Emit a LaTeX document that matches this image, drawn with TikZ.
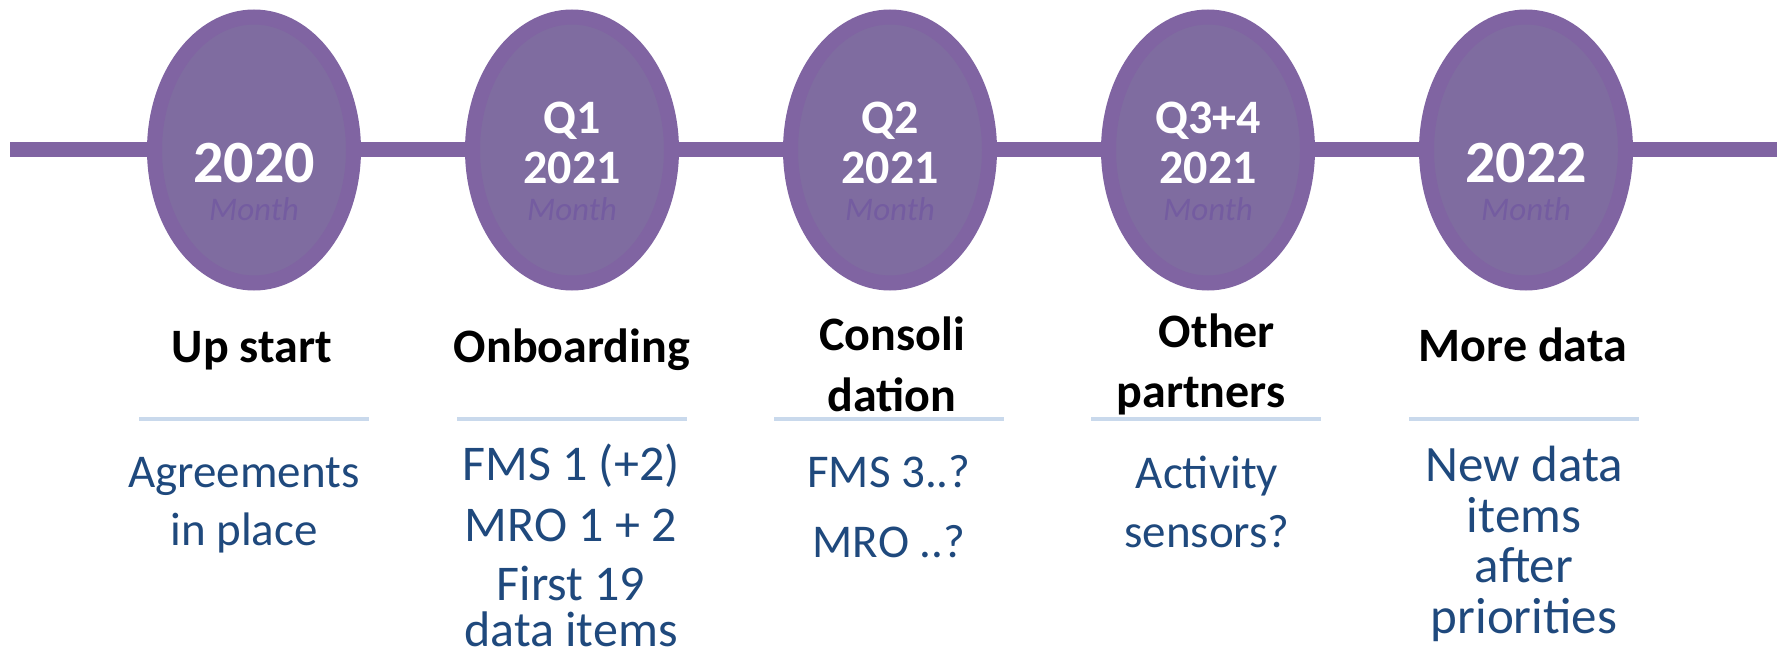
\documentclass[tikz,border=0pt]{standalone}
\usepackage{fontspec}
\setmainfont{Carlito}
\usetikzlibrary{shapes.geometric}
\definecolor{pedge}{RGB}{128,100,162}
\definecolor{pfill}{RGB}{127,108,160}
\definecolor{pmonth}{RGB}{116,92,160}
\definecolor{bodyblue}{RGB}{31,73,125}
\definecolor{seplight}{RGB}{201,217,236}
\tikzset{
  ell/.style={ellipse, draw=pedge, fill=pfill, line width=15pt, minimum width=199pt, minimum height=266pt, inner sep=0pt},
  tl/.style={draw=pedge, line width=15pt, line cap=butt},
  sepline/.style={draw=seplight, line width=4pt},
  txt/.style={inner sep=0pt, anchor=base},
  bigyear/.style={txt, text=white, font=\fontsize{60}{60}\selectfont\bfseries},
  qyear/.style={txt, text=white, font=\fontsize{48}{50}\selectfont\bfseries},
  monthtxt/.style={txt, text=pmonth, font=\fontsize{33}{34}\selectfont\itshape},
  title/.style={txt, text=black, font=\fontsize{48}{50}\selectfont\bfseries},
  bodya/.style={txt, text=bodyblue, font=\fontsize{47}{50}\selectfont},
  bodyb/.style={txt, text=bodyblue, font=\fontsize{50}{50}\selectfont},
  bodyc/.style={txt, text=bodyblue, font=\fontsize{51}{50}\selectfont},
}
\begin{document}
\begin{tikzpicture}[x=1pt,y=-1pt]
\useasboundingbox (0,0) rectangle (1783,655);
% ellipses
\node[ell] (e1) at (254,150) {};
\node[ell] (e2) at (572,150) {};
\node[ell] (e3) at (890,150) {};
\node[ell] (e4) at (1208,150) {};
\node[ell] (e5) at (1526,150) {};
% timeline
\coordinate (L) at (10,150);
\coordinate (R) at (1777,150);
\draw[tl] (L) -- (e1.west);
\draw[tl] (e1.east) -- (e2.west);
\draw[tl] (e2.east) -- (e3.west);
\draw[tl] (e3.east) -- (e4.west);
\draw[tl] (e4.east) -- (e5.west);
\draw[tl] (e5.east) -- (R);
% labels in ellipses
\node[bigyear] (y1) at (254,183) {2020};
\node[qyear] (q2a) at (572,134) {Q1};
\node[qyear] (q2b) at (572,184) {2021};
\node[qyear] (q3a) at (890,134) {Q2};
\node[qyear] (q3b) at (890,184) {2021};
\node[qyear] (q4a) at (1208,134) {Q3+4};
\node[qyear] (q4b) at (1208,184) {2021};
\node[bigyear] (y5) at (1526,183) {2022};
\node[monthtxt] (m1) at (254,221) {Month};
\node[monthtxt] (m2) at (572,221) {Month};
\node[monthtxt] (m3) at (890,221) {Month};
\node[monthtxt] (m4) at (1208,221) {Month};
\node[monthtxt] (m5) at (1526,221) {Month};
% titles
\node[title] (t1) at (252,362) {Up start};
\node[title] (t2) at (572,362) {Onboarding};
\node[title] (t3a) at (892,350) {Consoli};
\node[title] (t3b) at (892,411) {dation};
\node[title] (t4a) at (1217,347) {Other};
\node[title] (t4b) at (1201,407) {partners};
\node[title] (t5) at (1523,361) {More data};
% separators
\coordinate (s1l) at (139,419); \coordinate (s1r) at (369,419);
\coordinate (s2l) at (457,419); \coordinate (s2r) at (687,419);
\coordinate (s3l) at (774,419); \coordinate (s3r) at (1004,419);
\coordinate (s4l) at (1091,419); \coordinate (s4r) at (1321,419);
\coordinate (s5l) at (1409,419); \coordinate (s5r) at (1639,419);
\draw[sepline] (s1l) -- (s1r);
\draw[sepline] (s2l) -- (s2r);
\draw[sepline] (s3l) -- (s3r);
\draw[sepline] (s4l) -- (s4r);
\draw[sepline] (s5l) -- (s5r);
% body texts
\node[bodya] (b1a) at (244,487) {Agreements};
\node[bodya] (b1b) at (244,545) {in place};
\node[bodyb] (b2a) at (571,480) {FMS 1 (+2)};
\node[bodyb] (b2b) at (571,541) {MRO 1 + 2};
\node[bodyb] (b2c) at (571,600) {First 19};
\node[bodyb] (b2d) at (571,646) {data items};
\node[bodya] (b3a) at (889,487) {FMS 3..?};
\node[bodya] (b3b) at (889,557) {MRO ..?};
\node[bodya] (b4a) at (1207,488) {Activity};
\node[bodya] (b4b) at (1207,547) {sensors?};
\node[bodyc] (b5a) at (1524,481) {New data};
\node[bodyc] (b5b) at (1524,532) {items};
\node[bodyc] (b5c) at (1524,582) {after};
\node[bodyc] (b5d) at (1524,633) {priorities};
\end{tikzpicture}
\end{document}
